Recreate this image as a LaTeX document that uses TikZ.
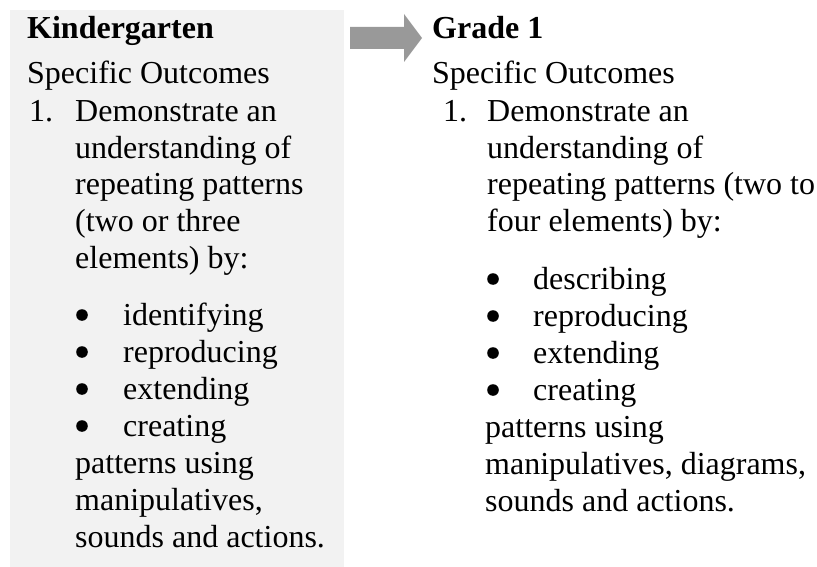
\documentclass[tikz,border=0pt]{standalone}
\usepackage{fontspec}
\setmainfont{Liberation Serif}
\definecolor{boxgray}{HTML}{F2F2F2}
\definecolor{arrowgray}{HTML}{999999}
\tikzset{
    panel/.style={fill=boxgray, anchor=north west, inner sep=0pt},
    line/.style={anchor=base west, inner sep=0pt, font=\fontsize{32}{37}\selectfont},
    head/.style={line, font=\fontsize{32}{37}\selectfont\bfseries},
    dot/.style={fill=black},
}

\begin{document}
\begin{tikzpicture}[x=1pt, y=-1pt]
    \useasboundingbox (0,0) rectangle (817,567);

    % Kindergarten panel
    \node (kbox) [panel, minimum width=334pt, minimum height=557pt] at (10,10) {};

    % block arrow
    \fill[arrowgray] (350,27) -- (404,27) -- (404,14) -- (422,38) -- (404,62) -- (404,49) -- (350,49) -- cycle;

    % Kindergarten
    \node (ktitle) [head] at (27,39) {Kindergarten};
    \node (kspec) [line] at (27,84) {Specific Outcomes};
    \node (knum) [line] at (29,121.5) {1.};
    \foreach \txt [count=\i] in {Demonstrate an, understanding of, repeating patterns, {(two or three}, elements) by:}
        \node (kl\i) [line] at (75,84.8+36.7*\i) {\txt};
    \foreach \txt [count=\i] in {identifying, reproducing, extending, creating} {
        \fill[dot] (82,278+37*\i) circle[radius=5.8pt];
        \node (kb\i) [line] at (123,288+37*\i) {\txt};
    }
    \foreach \txt [count=\i] in {patterns using, {manipulatives,}, sounds and actions.}
        \node (kc\i) [line] at (75,436+37*\i) {\txt};

    % Grade 1
    \node (gtitle) [head] at (432,39) {Grade 1};
    \node (gspec) [line] at (432,84) {Specific Outcomes};
    \node (gnum) [line] at (443,121.5) {1.};
    \foreach \txt [count=\i] in {Demonstrate an, understanding of, {repeating patterns (two to}, four elements) by:}
        \node (gl\i) [line] at (487,84.8+36.7*\i) {\txt};
    \foreach \txt [count=\i] in {describing, reproducing, extending, creating} {
        \fill[dot] (493,242+37*\i) circle[radius=5.8pt];
        \node (gb\i) [line] at (533,252+37*\i) {\txt};
    }
    \foreach \txt [count=\i] in {patterns using, {manipulatives, diagrams,}, sounds and actions.}
        \node (gc\i) [line] at (485,400+37*\i) {\txt};
\end{tikzpicture}
\end{document}
